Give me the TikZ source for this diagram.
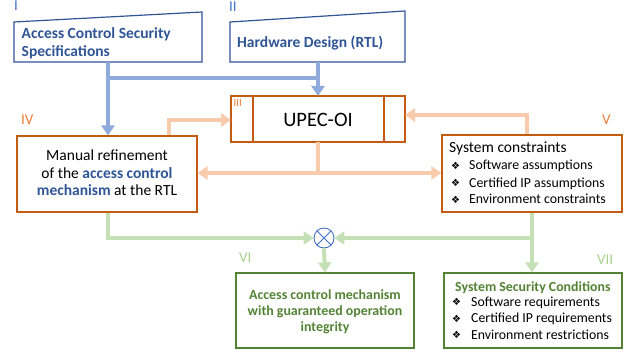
\documentclass[tikz,border=0pt]{standalone}
\usepackage{fontspec}
\setmainfont{Carlito}
\newfontfamily\dejavu{DejaVu Sans}
\usetikzlibrary{arrows.meta}
\definecolor{bluetxt}{HTML}{2F5597}
\definecolor{blueline}{HTML}{8FAADC}
\definecolor{bluelab}{HTML}{4472C4}
\definecolor{orangebox}{HTML}{C55A11}
\definecolor{orangeline}{HTML}{F8CBAD}
\definecolor{orangelab}{HTML}{ED7D31}
\definecolor{greenbox}{HTML}{548235}
\definecolor{greenline}{HTML}{C5E0B4}
\definecolor{greenlab}{HTML}{A9D18E}
\tikzset{
  lab/.style={font=\fontsize{15}{18}\selectfont, inner sep=0pt, anchor=base west},
  box/.style={draw, line width=1.2pt, inner sep=0pt},
  conn/.style={line width=4pt, -{Triangle[width=13pt,length=10pt]}},
  plain/.style={line width=4pt},
  big/.style={font=\fontsize{15.5}{18}\selectfont, inner sep=0pt, anchor=base},
  bigw/.style={big, anchor=base west},
  small/.style={font=\fontsize{13.8}{16}\selectfont, inner sep=0pt, anchor=base west},
  bul/.style={font=\dejavu\fontsize{10}{12}\selectfont, inner sep=0pt, anchor=base west},
}
\begin{document}
\begin{tikzpicture}[x=1pt,y=-1pt]
\useasboundingbox (0,0) rectangle (634,358);
% roman labels
\node[lab, text=bluelab] (lI) at (14,11) {I};
\node[lab, text=bluelab] (lII) at (229,11.5) {II};
\node[lab, text=orangelab] (lIV) at (21,125) {IV};
\node[lab, text=orangelab] (lV) at (602,125) {V};
\node[lab, text=greenlab] (lVI) at (239,262) {VI};
\node[lab, text=greenlab] (lVII) at (597,264) {VII};
% box I and II (manual input shapes)
\draw[bluetxt, line width=1.2pt] (14,22) -- (202,12) -- (202,62) -- (14,62) -- cycle;
\draw[bluetxt, line width=1.2pt] (230,22) -- (405,11) -- (405,62) -- (230,62) -- cycle;
\node[bigw, text=bluetxt, font=\fontsize{15.5}{18}\selectfont\bfseries] (I1) at (21.5,39) {Access Control Security};
\node[bigw, text=bluetxt, font=\fontsize{15.5}{18}\selectfont\bfseries] (I2) at (21.5,56.5) {Specifications};
\node[bigw, text=bluetxt, font=\fontsize{15.5}{18}\selectfont\bfseries] (II) at (237,48) {Hardware Design (RTL)};
\coordinate (Ib) at (108,62);
\coordinate (IIb) at (318,62);
% UPEC
\draw[box, draw=orangebox] (231,96) rectangle (405,142);
\coordinate (Uw) at (231,119);
\coordinate (Ue) at (405,119);
\coordinate (Un) at (318,96);
\coordinate (Us) at (318,142);
\draw[orangebox, line width=1.2pt] (253,96) -- (253,142) (384,96) -- (384,142);
\node[font=\fontsize{20.5}{24}\selectfont, inner sep=0pt, anchor=base] (Ut) at (318,127) {UPEC-OI};
\node[font=\fontsize{11}{12}\selectfont, text=orangelab, inner sep=0pt, anchor=base west] (lIII) at (233.5,106.5) {III};
% IV
\node[box, draw=orangebox, minimum width=180pt, minimum height=76pt] (IV) at (107,174) {};
\node[big] (IV1) at (107,161) {Manual refinement};
\node[big] (IV2) at (107,178.5) {of the \textcolor{bluetxt}{\bfseries access control}};
\node[big] (IV3) at (107,196) {\textcolor{bluetxt}{\bfseries mechanism} at the RTL};
% V
\node[box, draw=orangebox, minimum width=180pt, minimum height=77pt] (V) at (532,173.5) {};
\node[bigw] (V1) at (449,153) {System constraints};
\node[bul] (Vb2) at (451,169.5) {❖};
\node[small] (V2) at (469,170) {Software assumptions};
\node[bul] (Vb3) at (451,186.5) {❖};
\node[small] (V3) at (469,187) {Certified IP assumptions};
\node[bul] (Vb4) at (451,203.5) {❖};
\node[small] (V4) at (469,204) {Environment constraints};
% VI
\node[box, draw=greenbox, minimum width=178pt, minimum height=75pt] (VI) at (325,310.5) {};
\node[big, font=\fontsize{13.9}{16}\selectfont\bfseries, text=greenbox] (VI1) at (325,299) {Access control mechanism};
\node[big, font=\fontsize{13.9}{16}\selectfont\bfseries, text=greenbox] (VI2) at (325,315) {with guaranteed operation};
\node[big, font=\fontsize{13.9}{16}\selectfont\bfseries, text=greenbox] (VI3) at (325,331) {integrity};
% VII
\node[box, draw=greenbox, minimum width=178pt, minimum height=75pt] (VII) at (533,310.5) {};
\node[small, font=\fontsize{13.85}{16}\selectfont\bfseries, text=greenbox] (VII1) at (455,291) {System Security Conditions};
\node[bul] (VIIb2) at (452,305.5) {❖};
\node[small] (VII2) at (471,306) {Software requirements};
\node[bul] (VIIb3) at (452,322) {❖};
\node[small] (VII3) at (471,322.5) {Certified IP requirements};
\node[bul] (VIIb4) at (452,338.5) {❖};
\node[small] (VII4) at (471,339) {Environment restrictions};
% combiner
\node[draw=bluelab, circle, line width=0.9pt, minimum size=20pt, inner sep=0pt] (X) at (324,238) {};
\draw[bluelab, line width=0.9pt] (X.north west) -- (X.south east) (X.north east) -- (X.south west);
% blue connectors
\draw[blueline, conn] (Ib) -- (Ib |- IV.north);
\draw[blueline, plain] (Ib |- 0,78) -- (IIb |- 0,78);
\draw[blueline, conn] (IIb) -- (Un);
% orange connectors
\draw[orangeline, conn] (168.5,0 |- IV.north) -- (168.5,120) -- (Uw |- 0,120);
\draw[orangeline, conn] (527,0 |- V.north) -- (527,115) -- (Ue |- 0,115);
\draw[orangeline, plain] (Us) -- (318,173);
\draw[orangeline, conn] (318,173) -- (IV.east |- 0,173);
\draw[orangeline, conn] (318,173) -- (V.west |- 0,173);
% green connectors
\draw[greenline, conn] (108,0 |- IV.south) -- (108,238) -- (X.west);
\draw[greenline, conn] (532,0 |- V.south) -- (532,238) -- (X.east);
\draw[greenline, conn] (532,238) -- (532,0 |- VII.north);
\draw[greenline, conn] (X.south) -- (VI.north);
\end{tikzpicture}
\end{document}
